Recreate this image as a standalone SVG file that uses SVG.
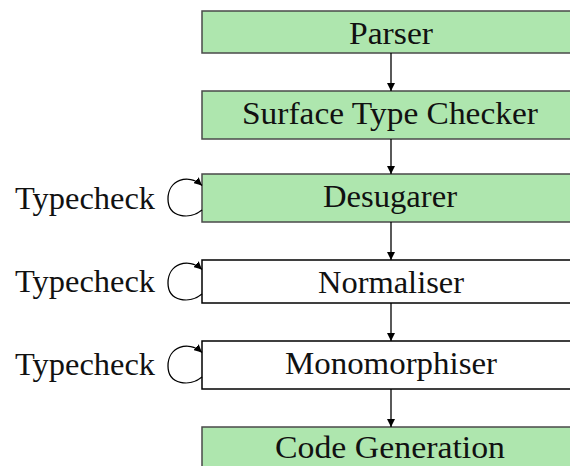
<svg xmlns="http://www.w3.org/2000/svg" width="570" height="466" viewBox="0 0 570 466">
  <style>
    .stage { stroke-width: 1.5; }
    .done { fill: #aee6ae; stroke: #4a4a4a; }
    .todo { fill: #ffffff; stroke: #000000; }
    .label { font-family: "Liberation Serif", "DejaVu Serif", serif; font-size: 32px; fill: #111; }
    .mid { text-anchor: middle; }
    .flow { fill: none; stroke: #000; stroke-width: 1.3; }
  </style>
  <defs>
    <marker id="tip" viewBox="0 0 10 10" refX="10" refY="5" markerWidth="8" markerHeight="8" markerUnits="userSpaceOnUse" orient="auto">
      <path d="M0,0 L10,5 L0,10 Z" fill="#000"/>
    </marker>
  </defs>
  <rect width="570" height="466" fill="#ffffff"/>

  <g id="parser">
    <rect class="stage done" x="202" y="11" width="378" height="42"/>
    <text class="label mid" x="391" y="43.5" textLength="84" lengthAdjust="spacingAndGlyphs">Parser</text>
  </g>
  <g id="surface-checker">
    <rect class="stage done" x="202" y="91" width="378" height="48"/>
    <text class="label mid" x="390" y="123.5" textLength="296" lengthAdjust="spacingAndGlyphs">Surface Type Checker</text>
  </g>
  <g id="desugarer">
    <rect class="stage done" x="202" y="174" width="378" height="48"/>
    <text class="label mid" x="390" y="206.5" textLength="134" lengthAdjust="spacingAndGlyphs">Desugarer</text>
  </g>
  <g id="normaliser">
    <rect class="stage todo" x="202" y="260" width="378" height="43"/>
    <text class="label mid" x="391" y="292.5" textLength="146" lengthAdjust="spacingAndGlyphs">Normaliser</text>
  </g>
  <g id="monomorphiser">
    <rect class="stage todo" x="202" y="341" width="378" height="48"/>
    <text class="label mid" x="391" y="374" textLength="212" lengthAdjust="spacingAndGlyphs">Monomorphiser</text>
  </g>
  <g id="codegen">
    <rect class="stage done" x="202" y="427" width="378" height="43"/>
    <text class="label mid" x="390" y="458" textLength="230" lengthAdjust="spacingAndGlyphs">Code Generation</text>
  </g>

  <g id="typecheck-desugarer">
    <text class="label" x="15" y="208.5" textLength="140" lengthAdjust="spacingAndGlyphs">Typecheck</text>
  </g>
  <g id="typecheck-normaliser">
    <text class="label" x="15" y="292" textLength="140" lengthAdjust="spacingAndGlyphs">Typecheck</text>
  </g>
  <g id="typecheck-monomorphiser">
    <text class="label" x="15" y="375" textLength="140" lengthAdjust="spacingAndGlyphs">Typecheck</text>
  </g>

  <g id="connectors">
    <line class="flow" x1="391" y1="53" x2="391" y2="91" marker-end="url(#tip)"/>
    <line class="flow" x1="391" y1="139" x2="391" y2="174" marker-end="url(#tip)"/>
    <line class="flow" x1="391" y1="222" x2="391" y2="260" marker-end="url(#tip)"/>
    <line class="flow" x1="391" y1="303" x2="391" y2="341" marker-end="url(#tip)"/>
    <line class="flow" x1="391" y1="389" x2="391" y2="427" marker-end="url(#tip)"/>
    <!-- self loops on the left of the checked stages -->
    <path class="flow" d="M202,210 C190,220 168,218 168,199 C168,180 188,173 202,185.5" marker-end="url(#tip)"/>
    <path class="flow" d="M202,294 C190,304 168,302 168,283 C168,264 188,257 202,269.5" marker-end="url(#tip)"/>
    <path class="flow" d="M202,377 C190,387 168,385 168,366 C168,347 188,340 202,352.5" marker-end="url(#tip)"/>
  </g>
</svg>
